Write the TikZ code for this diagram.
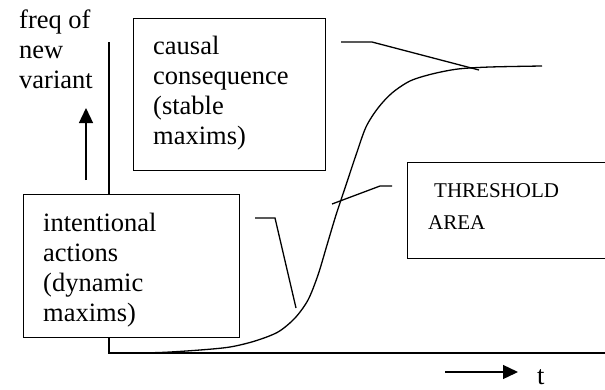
\documentclass[tikz,border=0pt]{standalone}
\usepackage{fontspec}
\setmainfont{Liberation Serif}
\usepackage{tikz}
\usetikzlibrary{positioning, arrows.meta}
\tikzset{arco/.style={line width=1.3pt, -{Triangle[length=15pt,width=14pt]}}}
\tikzset{linha/.style={line width=1.3pt}}
\tikzset{caixa/.style={draw, line width=1.3pt, fill=white, inner sep=0pt, anchor=north west}}
\tikzset{texto/.style={inner sep=0pt, anchor=north west, align=left, font=\fontsize{26.5}{30}\selectfont}}

\begin{document}
\begin{tikzpicture}[
            x = 1pt, y = -1pt
        ]
            \useasboundingbox (0,0) rectangle (605,389);

            % eixos
            \coordinate (ytop) at (109,42);
            \coordinate (o) at (109,353);
            \coordinate (xend) at (610,353);
            \draw[linha] (ytop) -- (o) -- (xend);

            \coordinate (up1) at (86,180);
            \coordinate (up2) at (86,108);
            \draw[arco] (up1) -- (up2);
            \coordinate (r1) at (445,372);
            \coordinate (r2) at (518,372);
            \draw[arco] (r1) -- (r2);

            % curva
            \draw[linha] plot[smooth, tension=0.5] coordinates {(120,353) (160,352.5) (200,350) (230,347) (255,341) (278,332) (295,318) (308,300) (318,275) (327,245) (336,215) (346,185) (356,155) (366,127) (378,108) (392,93) (410,81) (432,74) (458,69) (490,67) (542,66)};

            % ponteiros
            \coordinate (c1) at (341,42);
            \coordinate (c2) at (372,42);
            \coordinate (c3) at (479,70);
            \draw[linha] (c1) -- (c2) -- (c3);
            \coordinate (l1) at (392,186);
            \coordinate (l2) at (380,186);
            \coordinate (l3) at (332,204);
            \draw[linha] (l1) -- (l2) -- (l3);
            \coordinate (i1) at (255,218);
            \coordinate (i2) at (275,218);
            \coordinate (i3) at (296,308);
            \draw[linha] (i1) -- (i2) -- (i3);

            % caixas
            \node[caixa, minimum width=192pt, minimum height=152pt] (causal) at (133,18) {};
            \node[caixa, minimum width=216pt, minimum height=143pt] (intent) at (23,194) {};
            \node[caixa, minimum width=220pt, minimum height=96pt] (thr) at (407,162) {};

            % textos
            \node[texto] (freq) at (19,10) {freq of\\new\\variant};
            \node[texto] (causaltxt) at (153,36) {causal\\consequence\\(stable\\maxims)};
            \node[texto] (intenttxt) at (43,213) {intentional\\actions\\(dynamic\\maxims)};
            \node[texto, font=\fontsize{21}{32}\selectfont] (thrtxt) at (428,183) {\hspace*{6pt}THRESHOLD\\AREA};
            \node[inner sep=0pt, anchor=base west, font=\fontsize{26.5}{30}\selectfont] (t) at (537,384) {t};
        \end{tikzpicture}
\end{document}
